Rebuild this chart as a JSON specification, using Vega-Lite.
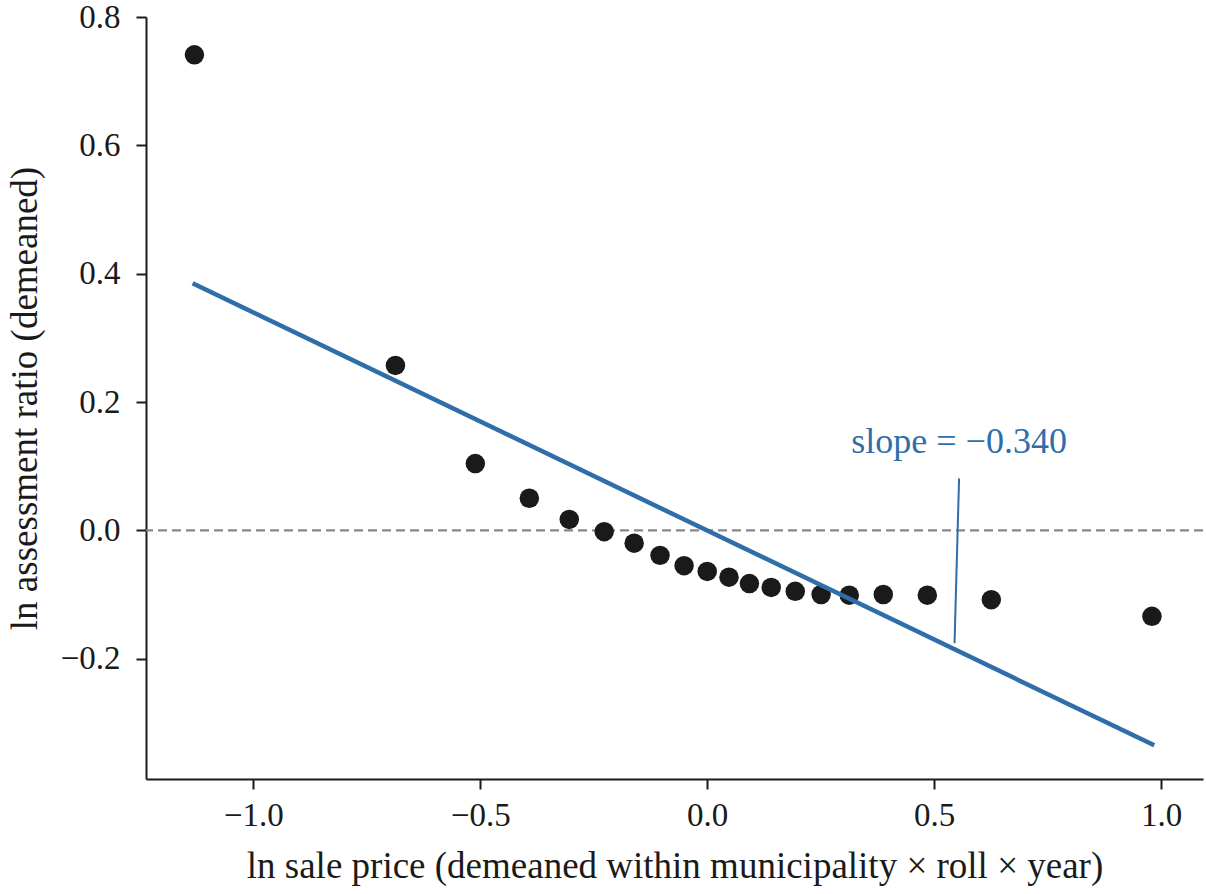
{
  "$schema": "https://vega.github.io/schema/vega-lite/v6.json",
  "autosize": {"type": "none"},
  "padding": {"left": 146, "top": 17, "right": 3, "bottom": 115},
  "width": 1057,
  "height": 762,
  "background": "white",
  "config": {
    "font": "Liberation Serif",
    "view": {"stroke": null},
    "axis": {
      "grid": false,
      "domainColor": "#1a1a1a",
      "domainWidth": 2,
      "tickColor": "#1a1a1a",
      "tickWidth": 2,
      "tickSize": 10,
      "labelFont": "Liberation Serif",
      "labelFontSize": 33,
      "labelColor": "#1a1a1a",
      "titleFont": "Liberation Serif",
      "titleFontSize": 37,
      "titleFontWeight": "normal",
      "titleColor": "#1a1a1a"
    }
  },
  "datasets": {
    "bins": [
      {"x": -1.130, "y": 0.741},
      {"x": -0.687, "y": 0.257},
      {"x": -0.511, "y": 0.104},
      {"x": -0.392, "y": 0.050},
      {"x": -0.304, "y": 0.017},
      {"x": -0.227, "y": -0.002},
      {"x": -0.161, "y": -0.020},
      {"x": -0.104, "y": -0.039},
      {"x": -0.051, "y": -0.055},
      {"x": 0.000, "y": -0.064},
      {"x": 0.048, "y": -0.073},
      {"x": 0.093, "y": -0.083},
      {"x": 0.141, "y": -0.089},
      {"x": 0.194, "y": -0.095},
      {"x": 0.251, "y": -0.100},
      {"x": 0.313, "y": -0.101},
      {"x": 0.388, "y": -0.100},
      {"x": 0.485, "y": -0.101},
      {"x": 0.626, "y": -0.108},
      {"x": 0.980, "y": -0.134}
    ],
    "fit": [
      {"x": -1.134, "y": 0.385},
      {"x": 0.985, "y": -0.335}
    ],
    "note": [
      {"x": 0.555, "y": 0.081, "x2": 0.545, "y2": -0.176, "ty": 0.12, "label": "slope = −0.340"}
    ]
  },
  "layer": [
    {
      "data": {"values": [{"y": 0}]},
      "mark": {"type": "rule", "color": "#888888", "strokeWidth": 2.2, "strokeDash": [9, 5]},
      "encoding": {
        "y": {"field": "y", "type": "quantitative"}
      }
    },
    {
      "data": {"name": "bins"},
      "mark": {"type": "circle", "color": "#1a1a1a", "opacity": 1, "size": 380},
      "encoding": {
        "x": {
          "field": "x",
          "type": "quantitative",
          "scale": {"domain": [-1.2367, 1.0925], "nice": false, "zero": false},
          "axis": {
            "values": [-1, -0.5, 0, 0.5, 1],
            "format": ".1f",
            "labelPadding": 10,
            "titlePadding": 16,
            "title": "ln sale price (demeaned within municipality × roll × year)"
          }
        },
        "y": {
          "field": "y",
          "type": "quantitative",
          "scale": {"domain": [-0.3875, 0.8], "nice": false, "zero": false},
          "axis": {
            "values": [-0.2, 0, 0.2, 0.4, 0.6, 0.8],
            "format": ".1f",
            "labelPadding": 16,
            "titlePadding": 16,
            "title": "ln assessment ratio (demeaned)"
          }
        }
      }
    },
    {
      "data": {"name": "fit"},
      "mark": {"type": "line", "color": "#2f6ea9", "strokeWidth": 4.5},
      "encoding": {
        "x": {"field": "x", "type": "quantitative"},
        "y": {"field": "y", "type": "quantitative"}
      }
    },
    {
      "data": {"name": "note"},
      "mark": {"type": "rule", "color": "#2f6ea9", "strokeWidth": 2},
      "encoding": {
        "x": {"field": "x", "type": "quantitative"},
        "y": {"field": "y", "type": "quantitative"},
        "x2": {"field": "x2"},
        "y2": {"field": "y2"}
      }
    },
    {
      "data": {"name": "note"},
      "mark": {"type": "text", "color": "#2f6ea9", "fontSize": 36, "font": "Liberation Serif", "baseline": "alphabetic", "align": "center"},
      "encoding": {
        "x": {"field": "x", "type": "quantitative"},
        "y": {"field": "ty", "type": "quantitative"},
        "text": {"field": "label"}
      }
    }
  ]
}
